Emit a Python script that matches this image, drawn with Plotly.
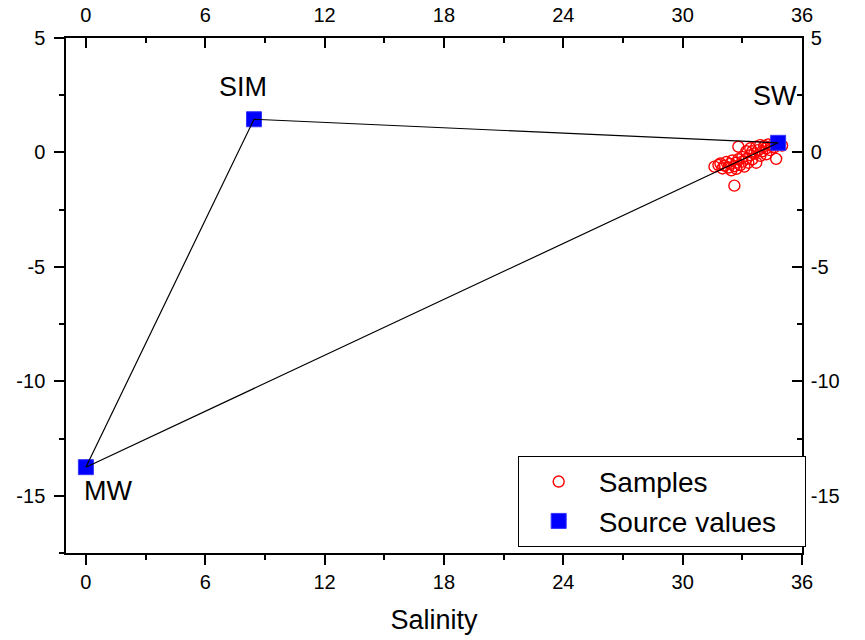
import plotly.graph_objects as go

# ---- data ----
sample_salinity = [31.6, 31.8, 31.9, 32.0, 32.1, 32.2, 32.3, 32.4, 32.45, 32.5,
                   32.6, 32.7, 32.7, 32.8, 32.8, 32.9, 33.0, 33.0, 33.1, 33.2,
                   33.2, 33.3, 33.4, 33.4, 33.5, 33.5, 33.6, 33.7, 33.7, 33.8,
                   33.9, 33.9, 34.0, 34.1, 34.2, 34.2, 34.3, 34.4, 34.5, 34.7,
                   34.6, 34.7, 34.9, 35.0, 32.6]
sample_d18o = [-0.62, -0.55, -0.48, -0.70, -0.58, -0.42, -0.66, -0.50, -0.78, -0.35,
               -0.60, -0.45, -0.72, 0.25, -0.30, -0.55, -0.40, -0.20, -0.62, -0.28,
               0.05, -0.45, -0.12, 0.18, -0.30, 0.05, -0.05, 0.25, -0.45, 0.10,
               -0.15, 0.32, 0.05, 0.28, -0.08, 0.18, 0.35, 0.10, 0.30, -0.28,
               0.22, 0.42, 0.38, 0.30, -1.45]

source_names = ["MW", "SIM", "SW"]
source_salinity = [0.0, 8.45, 34.8]
source_d18o = [-13.75, 1.45, 0.42]

# label positions for the end members
label_x = [1.1, 7.9, 34.65]
label_y = [-14.8, 2.85, 2.45]

x_ticks = [0, 6, 12, 18, 24, 30, 36]
x_ticktext = ["0", "6", "12", "18", "24", "30", "36"]
y_ticks = [5, 0, -5, -10, -15]
y_ticktext = ["5", "0", "-5", "-10", "-15"]

x_range = [-1, 36]
y_range = [-17.5, 5]

FONT = "Liberation Sans, Arial, sans-serif"
NBSP = "\u00a0"

# triangle mixing lines MW -> SIM -> SW -> MW
tri_x = source_salinity + [source_salinity[0]]
tri_y = source_d18o + [source_d18o[0]]

fig = go.Figure()

fig.add_trace(go.Scatter(
    x=sample_salinity, y=sample_d18o, mode="markers", name="Samples",
    marker=dict(symbol="circle-open", color="#FF0000", size=11,
                line=dict(width=1.4, color="#FF0000")),
))
fig.add_trace(go.Scatter(
    x=source_salinity, y=source_d18o, mode="markers", name="Source values" + NBSP * 3,
    marker=dict(symbol="square", color="#0000FF", size=15,
                line=dict(width=1, color="#3333FF")),
))
fig.add_trace(go.Scatter(
    x=tri_x, y=tri_y, mode="lines", showlegend=False,
    line=dict(color="black", width=1.2), hoverinfo="skip",
))
# invisible trace to activate mirrored top/right axes
fig.add_trace(go.Scatter(
    x=source_salinity, y=source_d18o, mode="markers", xaxis="x2", yaxis="y2",
    marker=dict(opacity=0), showlegend=False, hoverinfo="skip",
))

for name, lx, ly in zip(source_names, label_x, label_y):
    fig.add_annotation(x=lx, y=ly, text=name, showarrow=False,
                       font=dict(family=FONT, size=27, color="black"))

axis_common = dict(showline=True, linecolor="black", linewidth=1.5,
                   showgrid=False, zeroline=False, tickcolor="black",
                   tickwidth=1.5, ticklen=10, automargin=False,
                   tickfont=dict(family=FONT, size=20, color="black"))

fig.update_layout(
    width=865, height=640,
    margin=dict(l=66, r=63, t=38, b=87),
    paper_bgcolor="white", plot_bgcolor="white",
    font=dict(family=FONT, color="black"),
    showlegend=True,
    xaxis=dict(range=x_range, tickmode="array", tickvals=x_ticks, ticktext=x_ticktext,
               ticks="outside",
               minor=dict(ticks="outside", ticklen=5, tickwidth=1.5, tickcolor="black",
                          tickmode="linear", tick0=0, dtick=3),
               title=dict(text="Salinity", font=dict(family=FONT, size=27, color="black"),
                          standoff=18),
               **axis_common),
    xaxis2=dict(overlaying="x", side="top", matches="x", range=x_range,
                tickmode="array", tickvals=x_ticks, ticktext=x_ticktext,
                ticks="inside", ticklabelstandoff=6,
                minor=dict(ticks="inside", ticklen=5, tickwidth=1.5, tickcolor="black",
                           tickmode="linear", tick0=0, dtick=3),
                **axis_common),
    yaxis=dict(range=y_range, tickmode="array", tickvals=y_ticks, ticktext=y_ticktext,
               ticks="outside", ticklabelstandoff=5,
               minor=dict(ticks="outside", ticklen=5, tickwidth=1.5, tickcolor="black",
                          tickmode="linear", tick0=0, dtick=2.5),
               **axis_common),
    yaxis2=dict(overlaying="y", side="right", matches="y", range=y_range,
                tickmode="array", tickvals=y_ticks, ticktext=y_ticktext,
                ticks="inside", ticklabelstandoff=3,
                minor=dict(ticks="inside", ticklen=5, tickwidth=1.5, tickcolor="black",
                           tickmode="linear", tick0=0, dtick=2.5),
                **axis_common),
    legend=dict(x=1.005, xanchor="right", y=0.012, yanchor="bottom",
                bordercolor="black", borderwidth=1, bgcolor="white",
                font=dict(family=FONT, size=28, color="black"),
                itemwidth=70, tracegroupgap=0),
)

fig.write_html("out.html")
